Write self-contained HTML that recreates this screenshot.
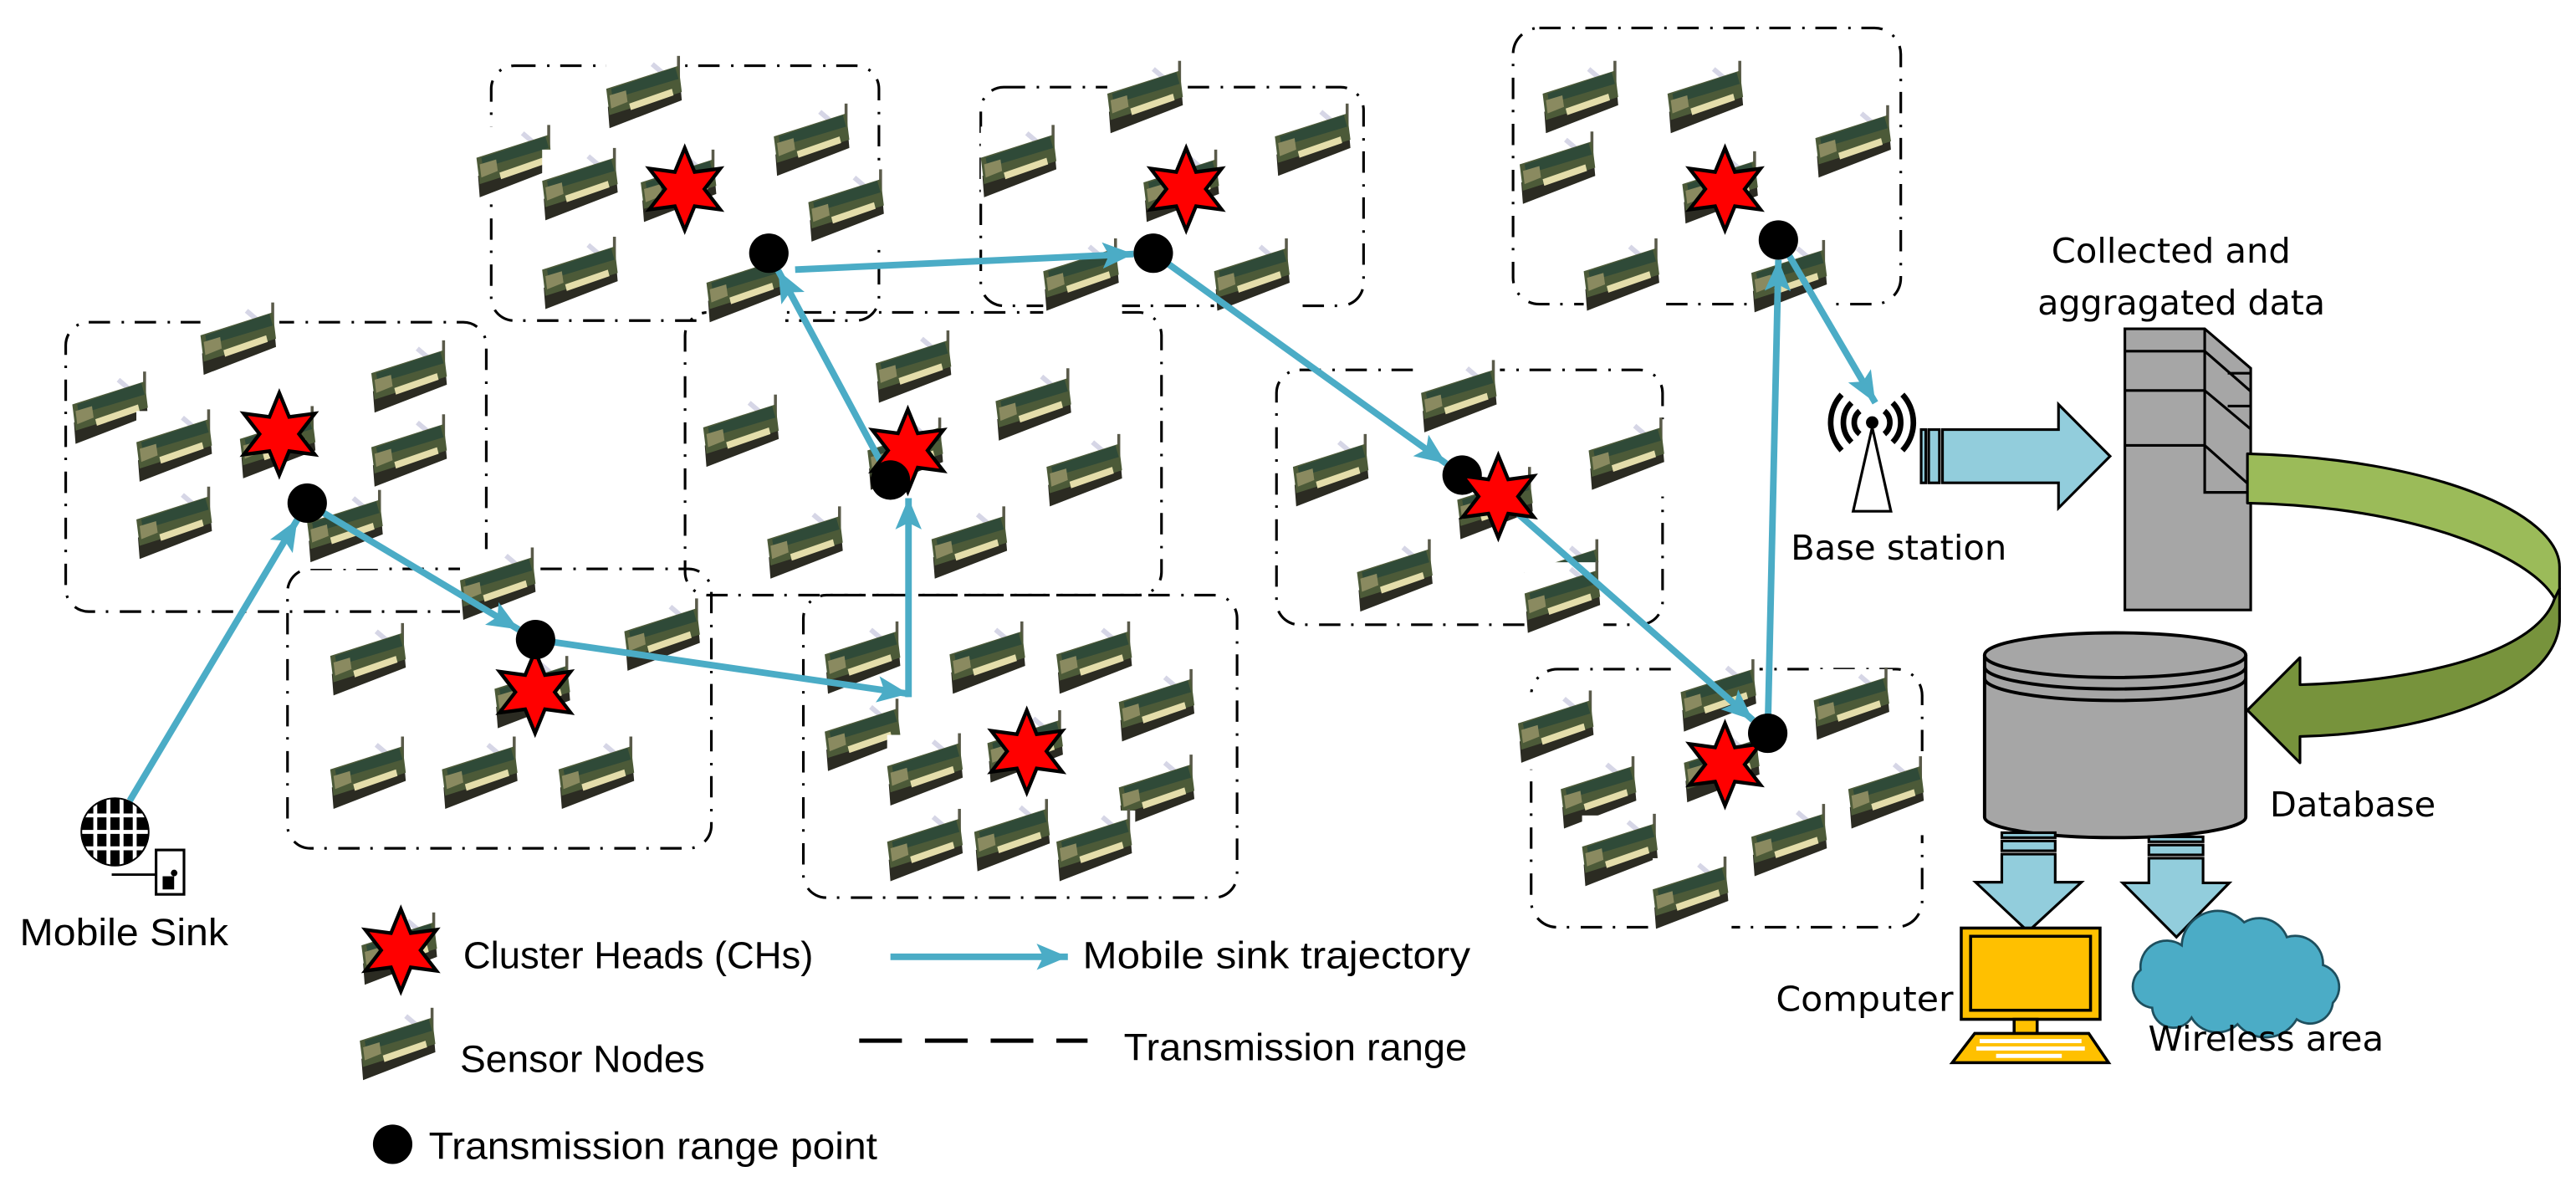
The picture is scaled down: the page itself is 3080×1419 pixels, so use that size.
<!DOCTYPE html>
<html><head><meta charset="utf-8"><style>
html,body{margin:0;padding:0;background:#fff;}
svg{display:block;}
.l{font-family:"Liberation Sans",sans-serif;font-size:23px;fill:#000;}
.r{font-family:"DejaVu Sans","Liberation Sans",sans-serif;font-size:21px;fill:#000;}
</style></head><body>
<svg width="3080" height="1419" viewBox="0 0 1568 722" preserveAspectRatio="none" xmlns="http://www.w3.org/2000/svg">
<defs>
<g id="n">
<rect x="-24" y="-24" width="48" height="47" fill="#fff"/>
<line x1="20" y1="-25" x2="20" y2="-7" stroke="#5a5a4a" stroke-width="1.8"/>
<line x1="4" y1="-20" x2="17" y2="-9" stroke="#d6d6e6" stroke-width="3"/>
<polygon points="-23,6 21,-9 22,2 -22,19" fill="#2b2b22"/>
<polygon points="-24,-5 20,-19 22,-3 -22,11" fill="#4c5a38"/>
<polygon points="-21,-5 18,-18 20,-11 -20,1" fill="#2f4a38"/>
<polygon points="-10,4 16,-5 17,-1 -9,8" fill="#e4ddaa"/>
<polygon points="-22,-1 -12,-4 -11,3 -21,7" fill="#8a8a60"/>
</g>
<path id="s" d="M0,-25 L6,-10.4 L21.65,-12.5 L12,0 L21.65,12.5 L6,10.4 L0,25 L-6,10.4 L-21.65,12.5 L-12,0 L-21.65,-12.5 L-6,-10.4 Z" fill="#ff0000" stroke="#000" stroke-width="2.2" stroke-linejoin="miter"/>
<marker id="a" markerUnits="userSpaceOnUse" markerWidth="22" markerHeight="20" refX="19" refY="8" orient="auto">
<path d="M0,0 L19,8 L0,16 L4,8 Z" fill="#4bacc6"/>
</marker>
<clipPath id="gc"><circle cx="70" cy="506" r="20"/></clipPath>
</defs>

<g fill="none" stroke="#000" stroke-width="1.6" stroke-dasharray="13 7 1.5 6.5">
<rect x="40" y="196" width="256" height="176" rx="14"/>
<rect x="175" y="346" width="258" height="170" rx="14"/>
<rect x="299" y="40" width="236" height="155" rx="14"/>
<rect x="417" y="190" width="290" height="172" rx="14"/>
<rect x="489" y="362" width="264" height="184" rx="14"/>
<rect x="597" y="53" width="233" height="133" rx="14"/>
<rect x="777" y="225" width="235" height="155" rx="14"/>
<rect x="921" y="17" width="236" height="168" rx="16"/>
<rect x="932" y="407" width="238" height="157" rx="16"/>
</g>

<g>
<use href="#n" x="393" y="59"/><use href="#n" x="314" y="101"/><use href="#n" x="354" y="115"/><use href="#n" x="414" y="116"/><use href="#n" x="495" y="88"/><use href="#n" x="516" y="128"/><use href="#n" x="354" y="169"/><use href="#n" x="454" y="177"/>
<use href="#n" x="146" y="209"/><use href="#n" x="68" y="251"/><use href="#n" x="250" y="232"/><use href="#n" x="107" y="274"/><use href="#n" x="170" y="272"/><use href="#n" x="250" y="277"/><use href="#n" x="107" y="321"/><use href="#n" x="211" y="323"/>
<use href="#n" x="557" y="226"/><use href="#n" x="630" y="249"/><use href="#n" x="452" y="265"/><use href="#n" x="552" y="279"/><use href="#n" x="661" y="289"/><use href="#n" x="491" y="333"/><use href="#n" x="591" y="333"/>
<use href="#n" x="304" y="358"/><use href="#n" x="404" y="389"/><use href="#n" x="225" y="404"/><use href="#n" x="325" y="424"/><use href="#n" x="225" y="473"/><use href="#n" x="293" y="473"/><use href="#n" x="364" y="473"/>
<use href="#n" x="526" y="403"/><use href="#n" x="602" y="403"/><use href="#n" x="667" y="403"/><use href="#n" x="705" y="432"/><use href="#n" x="526" y="450"/><use href="#n" x="625" y="457"/><use href="#n" x="564" y="471"/><use href="#n" x="705" y="484"/><use href="#n" x="564" y="517"/><use href="#n" x="617" y="511"/><use href="#n" x="667" y="517"/>
<use href="#n" x="698" y="62"/><use href="#n" x="621" y="101"/><use href="#n" x="800" y="88"/><use href="#n" x="720" y="116"/><use href="#n" x="659" y="170"/><use href="#n" x="763" y="170"/>
<use href="#n" x="963" y="62"/><use href="#n" x="1039" y="62"/><use href="#n" x="949" y="105"/><use href="#n" x="1129" y="89"/><use href="#n" x="1048" y="117"/><use href="#n" x="988" y="170"/><use href="#n" x="1090" y="171"/>
<use href="#n" x="889" y="244"/><use href="#n" x="991" y="279"/><use href="#n" x="811" y="289"/><use href="#n" x="911" y="309"/><use href="#n" x="850" y="353"/><use href="#n" x="952" y="353"/><use href="#n" x="952" y="366"/>
<use href="#n" x="1047" y="426"/><use href="#n" x="948" y="445"/><use href="#n" x="1128" y="431"/><use href="#n" x="974" y="485"/><use href="#n" x="1049" y="469"/><use href="#n" x="1149" y="485"/><use href="#n" x="987" y="520"/><use href="#n" x="1090" y="514"/><use href="#n" x="1030" y="546"/>
<use href="#n" x="244" y="580"/><use href="#n" x="243" y="638"/>
</g>

<g stroke="#4bacc6" stroke-width="4" fill="none" marker-end="url(#a)">
<line x1="79" y1="487" x2="181" y2="316"/>
<line x1="187" y1="306" x2="315.7" y2="382.9"/>
<line x1="326" y1="389" x2="553" y2="422"/>
<line x1="553" y1="424" x2="553" y2="303"/>
<line x1="542" y1="292" x2="473.7" y2="164.6"/>
<line x1="484" y1="164" x2="690" y2="154.5"/>
<line x1="702" y1="154" x2="880.3" y2="282"/>
<line x1="912" y1="302" x2="1067" y2="438"/>
<line x1="1076" y1="446" x2="1082.5" y2="158"/>
<line x1="1087" y1="152" x2="1141.5" y2="245"/>
<line x1="542" y1="582" x2="650" y2="582"/>
</g>

<use href="#s" x="416.8" y="115"/>
<use href="#s" x="170" y="264"/>
<use href="#s" x="325.7" y="421"/>
<use href="#s" x="552.6" y="274"/>
<use href="#s" x="625" y="457"/>
<use href="#s" x="722" y="115"/>
<use href="#s" x="1050" y="115"/>
<use href="#s" x="1050" y="465"/>
<use href="#s" x="244" y="578"/>

<g fill="#000">
<circle cx="187" cy="306" r="12"/>
<circle cx="326" cy="389" r="12"/>
<circle cx="542" cy="292" r="12"/>
<circle cx="468" cy="154" r="12"/>
<circle cx="702" cy="154" r="12"/>
<circle cx="890" cy="289" r="12"/>
<circle cx="1082.5" cy="146" r="12"/>
<circle cx="1076" cy="446" r="12"/>
<circle cx="239" cy="696" r="12"/>
</g>
<use href="#s" x="912" y="302"/>

<circle cx="70" cy="506" r="21" fill="#000"/>
<g clip-path="url(#gc)" stroke="#fff" stroke-width="2.4">
<line x1="58" y1="480" x2="58" y2="530"/><line x1="66" y1="480" x2="66" y2="530"/><line x1="74" y1="480" x2="74" y2="530"/><line x1="82" y1="480" x2="82" y2="530"/>
<line x1="45" y1="496" x2="95" y2="496"/><line x1="45" y1="506" x2="95" y2="506"/><line x1="45" y1="516" x2="95" y2="516"/>
</g>
<line x1="68" y1="532" x2="95" y2="532" stroke="#000" stroke-width="1.5"/>
<rect x="95" y="517" width="17" height="27" fill="#fff" stroke="#000" stroke-width="1.6"/>
<rect x="99" y="533" width="7" height="8" fill="#000"/><circle cx="106" cy="531" r="2" fill="#000"/>

<line x1="523" y1="633" x2="662" y2="633" stroke="#000" stroke-width="2.6" stroke-dasharray="26 14"/>

<text class="l" x="12" y="575" textLength="127" lengthAdjust="spacingAndGlyphs">Mobile Sink</text>
<text class="l" x="282" y="589" textLength="213" lengthAdjust="spacingAndGlyphs">Cluster Heads (CHs)</text>
<text class="l" x="280" y="652" textLength="149" lengthAdjust="spacingAndGlyphs">Sensor Nodes</text>
<text class="l" x="261" y="705" textLength="273" lengthAdjust="spacingAndGlyphs">Transmission range point</text>
<text class="l" x="659" y="589" textLength="236" lengthAdjust="spacingAndGlyphs">Mobile sink trajectory</text>
<text class="l" x="684" y="645" textLength="209" lengthAdjust="spacingAndGlyphs">Transmission range</text>

<g stroke="#000" fill="none" stroke-width="3.4" stroke-linecap="butt">
<path d="M1132,250 A9,9 0 0 0 1132,264"/><path d="M1147,250 A9,9 0 0 1 1147,264"/>
<path d="M1127,245 A17,17 0 0 0 1127,269"/><path d="M1152,245 A17,17 0 0 1 1152,269"/>
<path d="M1121,240 A25,25 0 0 0 1121,274"/><path d="M1158,240 A25,25 0 0 1 1158,274"/>
</g>
<circle cx="1139.6" cy="257" r="3.8" fill="#000"/>
<path d="M1139.6,260 L1128,311 L1151,311 Z" fill="none" stroke="#000" stroke-width="1.6"/>

<g fill="#92cddc" stroke="#000" stroke-width="1.6">
<rect x="1169.4" y="261.3" width="2.8" height="32.4"/>
<rect x="1174" y="261.3" width="6.5" height="32.4"/>
<path d="M1182.4,261.3 L1253,261.3 L1253,246 L1284.4,277.5 L1253,309 L1253,293.7 L1182.4,293.7 Z"/>
</g>

<g stroke="#000" stroke-width="1.6" fill="#a6a6a6">
<path d="M1293.4,200 L1342,200 L1370,224 L1370,371 L1293.4,371 Z"/>
<path d="M1342,200 L1342,299.5 L1368,299.5 M1293.4,213.6 L1342,213.6 M1293.4,237.5 L1342,237.5 M1293.4,270.9 L1342,270.9 M1342,213.6 L1370,238 M1342,237.5 L1370,261 M1342,270.9 L1368,294 M1356,227 L1370,227 M1356,247 L1370,247" fill="none"/>
</g>

<path d="M1400,400 L1368,432 L1400,464 L1400,448 C1480,446 1556,420 1558,378 L1558,358 L1555,364 C1545,395 1480,414 1400,416.5 Z" fill="#77933c" stroke="#000" stroke-width="1.6" stroke-linejoin="round"/>
<path d="M1368,276 C1480,279 1558,312 1558,345 L1558,358 L1555,364 C1540,338 1470,308 1368,306 Z" fill="#9bbb59" stroke="#000" stroke-width="1.6" stroke-linejoin="round"/>

<g stroke="#000" stroke-width="2" fill="#a6a6a6">
<path d="M1208,398.5 L1208,497 A79.5,12.5 0 0 0 1367,497 L1367,398.5"/>
<ellipse cx="1287.5" cy="398.5" rx="79.5" ry="13.6"/>
<path d="M1208,405.5 A79.5,13.6 0 0 0 1367,405.5" fill="none"/>
<path d="M1208,412.5 A79.5,13.6 0 0 0 1367,412.5" fill="none"/>
</g>

<g fill="#92cddc" stroke="#000" stroke-width="1.6">
<rect x="1218.5" y="506.5" width="32.5" height="3"/>
<rect x="1218.5" y="511.5" width="32.5" height="6"/>
<path d="M1218.5,519.5 L1251,519.5 L1251,536.6 L1267,536.6 L1234.5,566.6 L1202.5,536.6 L1218.5,536.6 Z"/>
<rect x="1308" y="509" width="33" height="3"/>
<rect x="1308" y="514" width="33" height="6"/>
<path d="M1308,522 L1341,522 L1341,537 L1357,537 L1324.8,570 L1292,537 L1308,537 Z"/>
</g>

<g stroke="#000" stroke-width="1.8" fill="#ffc000">
<rect x="1193.8" y="564.5" width="84.5" height="55.5"/>
<rect x="1199.5" y="569.5" width="73" height="45"/>
<rect x="1226" y="620" width="14" height="8.6"/>
<path d="M1202,628.6 L1271.4,628.6 L1283.5,646.4 L1188.3,646.4 Z"/>
</g>
<g fill="#fff">
<rect x="1205" y="632" width="62" height="2.5"/><rect x="1203" y="636.5" width="66" height="2.5"/><rect x="1215" y="641" width="40" height="2.5"/>
</g>

<path d="M1310,613 A13,13 0 0 1 1303,590 A16,16 0 0 1 1328,575 A22,22 0 0 1 1366,561 A18,18 0 0 1 1392,570 A17,17 0 0 1 1414,587 A14,14 0 0 1 1420,610 A14,14 0 0 1 1398,620 A22,22 0 0 1 1362,623 A18,18 0 0 1 1334,619 A13,13 0 0 1 1310,613 Z" fill="#4bacc6" stroke="#1e4f5e" stroke-width="1.4"/>

<text class="r" x="1248.7" y="159.7" textLength="145.6" lengthAdjust="spacingAndGlyphs">Collected and</text>
<text class="r" x="1240.3" y="191.4" textLength="175" lengthAdjust="spacingAndGlyphs">aggragated data</text>
<text class="r" x="1090" y="340.5" textLength="131.5" lengthAdjust="spacingAndGlyphs">Base station</text>
<text class="r" x="1381.6" y="496.7" textLength="101" lengthAdjust="spacingAndGlyphs">Database</text>
<text class="r" x="1081" y="615" textLength="108" lengthAdjust="spacingAndGlyphs">Computer</text>
<text class="r" x="1307.6" y="639" textLength="143.4" lengthAdjust="spacingAndGlyphs">Wireless area</text>
</svg>
</body></html>
